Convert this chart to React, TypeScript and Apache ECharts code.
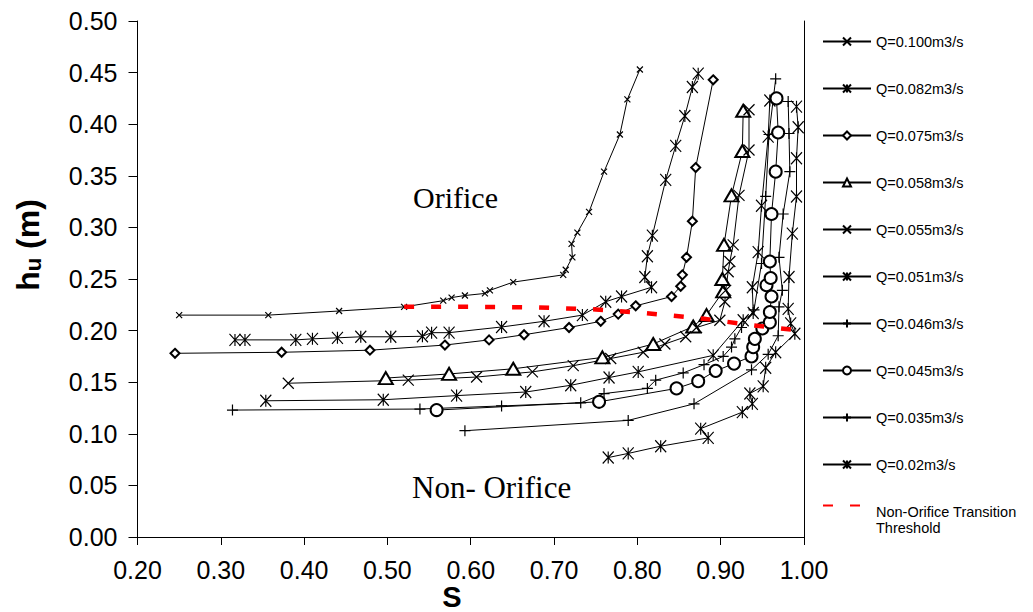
import React, { useEffect, useRef } from 'react';
import * as echarts from 'echarts';

// Axis ranges
const X_MIN = 0.2;
const X_MAX = 1.0;
const X_STEP = 0.1;
const Y_MIN = 0;
const Y_MAX = 0.5;
const Y_STEP = 0.05;

// Series names
const seriesNames = [
  'Q=0.100m3/s',
  'Q=0.082m3/s',
  'Q=0.075m3/s',
  'Q=0.058m3/s',
  'Q=0.055m3/s',
  'Q=0.051m3/s',
  'Q=0.046m3/s',
  'Q=0.045m3/s',
  'Q=0.035m3/s',
  'Q=0.02m3/s',
];
const thresholdName = 'Non-Orifice Transition\nThreshold';

// [S, hu]
const q100 = [
  [0.25, 0.215], [0.357, 0.215], [0.442, 0.219], [0.52, 0.223], [0.567, 0.229], [0.577, 0.232],
  [0.593, 0.234], [0.617, 0.236], [0.623, 0.239], [0.651, 0.247], [0.711, 0.254], [0.714, 0.259],
  [0.722, 0.271], [0.721, 0.284], [0.728, 0.295], [0.742, 0.315], [0.76, 0.354], [0.779, 0.39],
  [0.788, 0.424], [0.803, 0.453],
];
const q082 = [
  [0.317, 0.191], [0.329, 0.191], [0.39, 0.191], [0.41, 0.192], [0.44, 0.193], [0.468, 0.194],
  [0.504, 0.194], [0.542, 0.1945], [0.553, 0.198], [0.574, 0.198], [0.637, 0.2035], [0.688, 0.209],
  [0.734, 0.215], [0.762, 0.228], [0.781, 0.233], [0.817, 0.242], [0.809, 0.252], [0.812, 0.272],
  [0.818, 0.292], [0.834, 0.346], [0.846, 0.379], [0.857, 0.408], [0.866, 0.436], [0.873, 0.449],
];
const q075 = [
  [0.245, 0.178], [0.373, 0.179], [0.479, 0.181], [0.569, 0.186], [0.622, 0.191], [0.664, 0.196],
  [0.718, 0.203], [0.756, 0.209], [0.777, 0.216], [0.798, 0.224], [0.841, 0.233], [0.852, 0.243],
  [0.854, 0.254], [0.859, 0.271], [0.866, 0.306], [0.87, 0.358], [0.891, 0.443],
];
const q058 = [
  [0.498, 0.154], [0.574, 0.158], [0.651, 0.163], [0.758, 0.174], [0.819, 0.187], [0.867, 0.204],
  [0.883, 0.215], [0.903, 0.238], [0.902, 0.25], [0.904, 0.283], [0.913, 0.331], [0.926, 0.374],
  [0.927, 0.413],
];
const q055 = [
  [0.381, 0.149], [0.525, 0.152], [0.607, 0.155], [0.674, 0.16], [0.723, 0.166], [0.768, 0.173],
  [0.807, 0.179], [0.833, 0.187], [0.858, 0.194], [0.871, 0.203], [0.899, 0.21], [0.905, 0.228],
  [0.906, 0.239], [0.909, 0.257], [0.911, 0.267], [0.915, 0.283], [0.922, 0.331], [0.934, 0.375],
  [0.934, 0.414],
];
const q051 = [
  [0.354, 0.132], [0.495, 0.133], [0.583, 0.137], [0.666, 0.1405], [0.72, 0.147], [0.766, 0.1545],
  [0.801, 0.16], [0.891, 0.176], [0.927, 0.21], [0.939, 0.217], [0.938, 0.242], [0.945, 0.276],
  [0.949, 0.321], [0.957, 0.388], [0.959, 0.423],
];
const q046 = [
  [0.314, 0.123], [0.539, 0.124], [0.637, 0.127], [0.732, 0.13], [0.76, 0.139], [0.812, 0.144],
  [0.822, 0.152], [0.855, 0.159], [0.88, 0.167], [0.903, 0.175], [0.913, 0.184], [0.917, 0.192],
  [0.925, 0.203], [0.94, 0.22], [0.949, 0.265], [0.954, 0.33], [0.958, 0.39], [0.966, 0.444],
];
const q045 = [
  [0.559, 0.123], [0.754, 0.131], [0.847, 0.144], [0.873, 0.151], [0.894, 0.161], [0.916, 0.168],
  [0.937, 0.175], [0.939, 0.184], [0.941, 0.192], [0.95, 0.202], [0.959, 0.208], [0.959, 0.218],
  [0.961, 0.233], [0.955, 0.244], [0.96, 0.251], [0.959, 0.267], [0.961, 0.313], [0.966, 0.354],
  [0.969, 0.392], [0.967, 0.425],
];
const q035 = [
  [0.593, 0.103], [0.789, 0.113], [0.868, 0.129], [0.937, 0.162], [0.957, 0.177], [0.969, 0.195],
  [0.97, 0.223], [0.974, 0.239], [0.97, 0.271], [0.975, 0.313], [0.983, 0.354], [0.982, 0.391],
  [0.981, 0.422],
];
const q002 = [
  [0.765, 0.077], [0.789, 0.081], [0.828, 0.088], [0.885, 0.096], [0.876, 0.105], [0.926, 0.121],
  [0.938, 0.129], [0.935, 0.139], [0.951, 0.146], [0.954, 0.164], [0.966, 0.179], [0.989, 0.197],
  [0.984, 0.207], [0.981, 0.221], [0.982, 0.252], [0.986, 0.294], [0.991, 0.33], [0.991, 0.367],
  [0.993, 0.397], [0.991, 0.417],
];
const threshold = [
  [0.52, 0.223], [0.6, 0.223], [0.68, 0.2225], [0.75, 0.2205], [0.81, 0.217], [0.88, 0.2115],
  [0.94, 0.205], [0.985, 0.201],
];

const X_PATH = 'path://M0,0L10,10M10,0L0,10';
const AST_PATH = 'path://M0,0L10,10M10,0L0,10M5,0L5,10';
const PLUS_PATH = 'path://M5,0L5,10M0,5L10,5';

const seriesData = [q100, q082, q075, q058, q055, q051, q046, q045, q035, q002];
const seriesSymbols = [X_PATH, AST_PATH, 'emptyDiamond', 'emptyTriangle', X_PATH, AST_PATH, PLUS_PATH, 'emptyCircle', PLUS_PATH, AST_PATH];
const seriesSymbolSizes: any[] = [6, [11, 12], 9, [14, 12], 11, [11, 12], 11, 12, 11, [11, 12]];

const SANS = '"Liberation Sans", Arial, sans-serif';
const SERIF = '"Liberation Serif", "Times New Roman", serif';

export default function App() {
  const ref = useRef<HTMLDivElement>(null);
  useEffect(() => {
    if (!ref.current) return;
    const chart = echarts.init(ref.current, undefined, { renderer: 'svg' });
    const lineSeries = seriesNames.map((name, i) => ({
      name,
      type: 'line',
      data: seriesData[i],
      symbol: seriesSymbols[i],
      symbolSize: seriesSymbolSizes[i],
      showSymbol: true,
      lineStyle: { color: '#000', width: 1 },
      itemStyle: { color: '#000', borderColor: '#000', borderWidth: 1.2 },
      emphasis: { disabled: true },
      z: 3,
    }));
    const option: any = {
      animation: false,
      grid: { left: 137.5, right: 229, top: 21, bottom: 75 },
      xAxis: {
        type: 'value',
        min: X_MIN,
        max: X_MAX,
        interval: X_STEP,
        axisLine: { lineStyle: { color: '#000', width: 1 } },
        axisTick: { show: true, length: 8, lineStyle: { color: '#000' } },
        axisLabel: {
          color: '#000', fontSize: 25, fontFamily: SANS, margin: 20,
          formatter: (v: number) => v.toFixed(2),
        },
        splitLine: { show: false },
      },
      yAxis: [
        {
          type: 'value',
          min: Y_MIN,
          max: Y_MAX,
          interval: Y_STEP,
          axisLine: { show: true, lineStyle: { color: '#000', width: 1 } },
          axisTick: { show: true, length: 9, lineStyle: { color: '#000' } },
          axisLabel: {
            color: '#000', fontSize: 25, fontFamily: SANS, margin: 20,
            formatter: (v: number) => v.toFixed(2),
          },
          splitLine: { show: false },
        },
        {
          type: 'value',
          min: Y_MIN,
          max: Y_MAX,
          interval: Y_STEP,
          position: 'right',
          axisLine: { show: true, lineStyle: { color: '#000', width: 1 } },
          axisTick: { show: false },
          axisLabel: { show: false },
          splitLine: { show: false },
        },
      ],
      legend: [
        {
          data: seriesNames,
          orient: 'vertical',
          left: 817,
          top: 28,
          itemWidth: 48,
          itemHeight: 10,
          itemGap: 30,
          selectedMode: false,
          textStyle: { color: '#000', fontSize: 14.5, fontFamily: SANS, lineHeight: 17 },
        },
        {
          data: [{ name: thresholdName, itemStyle: { color: 'rgba(0,0,0,0)', borderWidth: 0, opacity: 0 } }],
          orient: 'vertical',
          left: 817,
          top: 479,
          itemWidth: 48,
          itemHeight: 10,
          selectedMode: false,
          formatter: () => '{p| }\n{a|Non-Orifice Transition}\n{a|Threshold}',
          textStyle: {
            color: '#000', fontSize: 14.5, fontFamily: SANS,
            rich: {
              p: { fontSize: 10, lineHeight: 29 },
              a: { fontSize: 14.5, fontFamily: SANS, lineHeight: 16.6, fill: '#000' },
            },
          },
        },
      ],
      series: [
        ...lineSeries,
        {
          name: thresholdName,
          type: 'line',
          data: threshold,
          symbol: 'none',
          lineStyle: { color: '#ff0000', width: 4.5, type: [10, 17] },
          itemStyle: { color: '#ff0000' },
          emphasis: { disabled: true },
          z: 4,
        },
      ],
      graphic: [
        {
          type: 'text', x: 413, y: 197,
          style: { text: 'Orifice', fontSize: 30, fontFamily: SERIF, fill: '#000', align: 'left', verticalAlign: 'middle' },
        },
        {
          type: 'text', x: 412, y: 487,
          style: { text: 'Non- Orifice', fontSize: 31, fontFamily: SERIF, fill: '#000', align: 'left', verticalAlign: 'middle' },
        },
        {
          type: 'text', x: 452, y: 597,
          style: { text: 'S', fontSize: 29, fontWeight: 'bold', fontFamily: SANS, fill: '#000', align: 'center', verticalAlign: 'middle' },
        },
        {
          type: 'text', x: 28, y: 245, rotation: Math.PI / 2,
          style: {
            text: '{a|h}{b|u}{a| (m)}',
            align: 'center',
            verticalAlign: 'middle',
            fill: '#000',
            rich: {
              a: { fontSize: 32, fontWeight: 'bold', fontFamily: SANS, lineHeight: 32, fill: '#000' },
              b: { fontSize: 22, fontWeight: 'bold', fontFamily: SANS, lineHeight: 22, padding: [14, 0, 0, 0], verticalAlign: 'bottom', fill: '#000' },
            },
          },
        },
      ],
    };
    chart.setOption(option);
    return () => chart.dispose();
  }, []);
  return <div ref={ref} style={{ position: 'fixed', left: 0, top: 0, width: 1033, height: 612, background: '#fff' }} />;
}
